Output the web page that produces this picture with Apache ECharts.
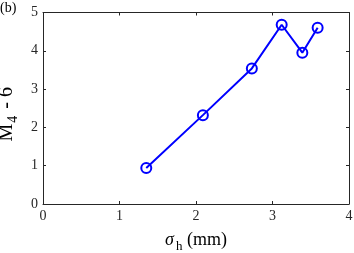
<!DOCTYPE html>
<html><head><meta charset="utf-8">
<script src="https://cdn.jsdelivr.net/npm/echarts@6/dist/echarts.min.js"></script>
<style>html,body{margin:0;padding:0;background:#fff}#c{width:354px;height:253px}</style>
</head><body><div id="c"></div>
<script>
const xValues = [1.35, 2.09, 2.73, 3.12, 3.39, 3.59];
const yValues = [0.94, 2.32, 3.54, 4.68, 3.95, 4.60];
const xTicks = [0, 1, 2, 3, 4];
const yTicks = [0, 1, 2, 3, 4, 5];

const font = 'Liberation Serif';
const axColor = '#262626';
const chart = echarts.init(document.getElementById('c'), null, {renderer: 'canvas'});
const baseAxis = {
  axisLine: {show: true, onZero: false, lineStyle: {color: axColor, width: 1}},
  axisTick: {show: true, inside: true, length: 3, lineStyle: {color: axColor}},
  splitLine: {show: false},
};
chart.setOption({
  animation: false,
  grid: {left: 43, right: 5, top: 12.5, bottom: 49, containLabel: false, outerBoundsMode: 'none'},
  xAxis: [
    Object.assign({}, baseAxis, {
      type: 'value', min: xTicks[0], max: xTicks[xTicks.length-1], interval: 1, position: 'bottom',
      axisLabel: {fontFamily: font, fontSize: 14, color: axColor, margin: 5},
      name: '{s|σ}{sub|h}{n| (mm)}', nameLocation: 'middle', nameGap: 24,
      nameTextStyle: {rich: {
        s: {fontFamily: font, fontStyle: 'italic', fontSize: 18, color: '#000'},
        sub: {fontFamily: font, fontSize: 13, color: '#000', padding: [12, 0, 0, 2]},
        n: {fontFamily: font, fontSize: 18, color: '#000'}
      }}
    }),
    Object.assign({}, baseAxis, {
      type: 'value', min: 0, max: 4, interval: 1, position: 'top', axisLabel: {show: false}
    })
  ],
  yAxis: [
    Object.assign({}, baseAxis, {
      type: 'value', min: yTicks[0], max: yTicks[yTicks.length-1], interval: 1, position: 'left',
      axisLabel: {fontFamily: font, fontSize: 14, color: axColor, margin: 5},
      name: '{m|M}{sub|4}{m| - 6}', nameLocation: 'middle', nameGap: 18, nameRotate: 90,
      nameTextStyle: {padding: [0, 12, 0, 0], rich: {
        m: {fontFamily: font, fontSize: 20, color: '#000'},
        sub: {fontFamily: font, fontSize: 14, color: '#000', padding: [12, 2, 0, 1]}
      }}
    }),
    Object.assign({}, baseAxis, {
      type: 'value', min: 0, max: 5, interval: 1, position: 'right', axisLabel: {show: false}
    })
  ],
  graphic: [{type: 'text', left: 0, top: 1, style: {text: '(b)', fontFamily: font, fontSize: 14, fill: '#000'}}],
  series: [{
    type: 'line',
    data: xValues.map((x, i) => [x, yValues[i]]),
    symbol: 'circle', symbolSize: 10, showSymbol: true,
    lineStyle: {color: '#0000ff', width: 2},
    itemStyle: {color: 'rgba(0,0,0,0)', borderColor: '#0000ff', borderWidth: 2},
    z: 3
  }]
});
</script></body></html>
